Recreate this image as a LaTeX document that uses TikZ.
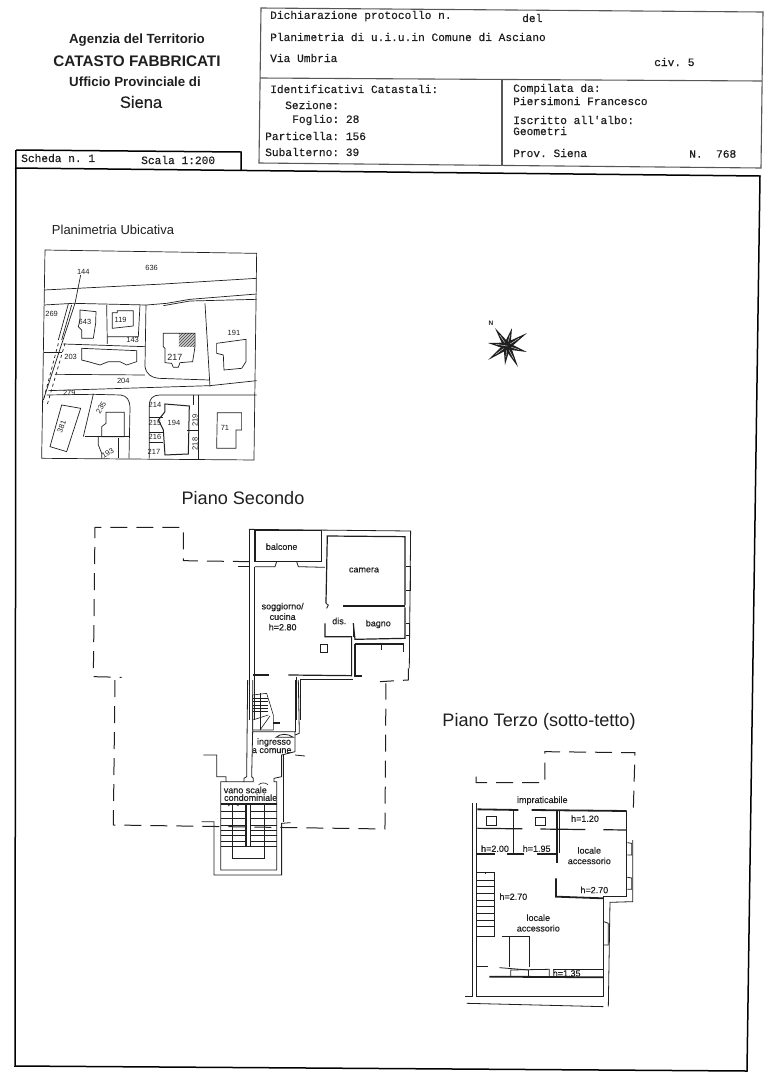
\documentclass[tikz,border=0pt]{standalone}
\usepackage{fontspec}
\setmainfont{Liberation Sans}
\setmonofont[FakeBold=0.5]{Liberation Mono}
\newfontfamily\labelfont[FakeBold=0.4]{Liberation Sans}
\usetikzlibrary{calc, patterns}
\definecolor{inkcolor}{gray}{0.12}

\begin{document}
\begin{tikzpicture}[
    x=1pt, y=-1pt,
    color=inkcolor,
    wall/.style={draw=inkcolor, line width=0.8pt},
    thickwall/.style={draw=inkcolor, line width=1.8pt},
    heavywall/.style={draw=inkcolor, line width=1.2pt},
    outline/.style={draw=inkcolor, line width=1pt, dash pattern=on 17pt off 9pt},
    frameline/.style={draw=inkcolor!75, line width=1.1pt},
    sheetline/.style={draw=black, line width=1.5pt},
    stamp/.style={font=\ttfamily\fontsize{11.2}{12}\selectfont, anchor=west, inner sep=0pt},
    office/.style={font=\bfseries\fontsize{13.3}{15}\selectfont, inner sep=0pt},
    title/.style={font=\fontsize{18.1}{20}\selectfont, inner sep=0pt},
    room/.style={font=\labelfont\fontsize{9}{10.5}\selectfont, align=center, inner sep=0pt},
    parcel/.style={font=\fontsize{7.5}{8}\selectfont, inner sep=0pt},
    map/.style={draw=inkcolor, line width=0.7pt},
    stairline/.style={draw=inkcolor, line width=0.6pt}
]
    \useasboundingbox (0,0) rectangle (767,1080);

    % Office heading
    \node[office] (agenzia) at (137,40) {Agenzia del Territorio};
    \node[office, font=\bfseries\fontsize{15.3}{17}\selectfont] (catasto) at (137,61) {CATASTO FABBRICATI};
    \node[office] (ufficio) at (135,82) {Ufficio Provinciale di};
    \node[office, font=\labelfont\fontsize{16.5}{18}\selectfont] (siena) at (141,102) {Siena};

    % Form boxes
    \draw[frameline] (261,8) -- (763,12) -- (761,168) -- (259,163) -- cycle;
    \draw[frameline] (260,78) -- (762,81);
    \draw[frameline] (502,80) -- (502,165);
    \draw[sheetline] (16,150) -- (241,152) -- (241,170);
    \draw[sheetline] (16,150) -- (15,1066) -- (747,1071) -- (760,176) -- (15,168);

    \node[stamp] (dich) at (270,16) {Dichiarazione protocollo n.};
    \node[stamp] (del) at (522,18) {del};
    \node[stamp] (plan) at (270,37) {Planimetria di u.i.u.in Comune di Asciano};
    \node[stamp] (via) at (270,58) {Via Umbria};
    \node[stamp] (civ) at (654,62) {civ. 5};
    \node[stamp] (ident) at (270,89) {Identificativi Catastali:};
    \node[stamp] (sez) at (285,105) {Sezione:};
    \node[stamp] (fog) at (292,120) {Foglio: 28};
    \node[stamp] (part) at (265,136) {Particella: 156};
    \node[stamp] (sub) at (265,152) {Subalterno: 39};
    \node[stamp] (comp) at (513,89) {Compilata da:};
    \node[stamp] (nome) at (513,101) {Piersimoni Francesco};
    \node[stamp] (iscr) at (513,120) {Iscritto all'albo:};
    \node[stamp] (geom) at (513,131) {Geometri};
    \node[stamp] (prov) at (513,153) {Prov. Siena};
    \node[stamp] (num) at (689,154) {N.~~768};
    \node[stamp] (scheda) at (21,158) {Scheda n. 1};
    \node[stamp] (scala) at (141,160) {Scala 1:200};

    % Titles
    \node[font=\fontsize{13}{15}\selectfont, inner sep=0pt] (ubic) at (113,230) {Planimetria Ubicativa};
    \node[title] (secondo) at (243,498) {Piano Secondo};
    \node[title] (terzo) at (539,722) {Piano Terzo (sotto-tetto)};

    % North star
    \coordinate (star) at (507,346);
    \node[font=\bfseries\fontsize{6.5}{7}\selectfont, inner sep=0pt] (north) at (491,323) {N};
    \foreach \tx/\ty in {495/328,512/328,527/333,527/352,518/367,505/365,488/360,488/343} {
        \fill[inkcolor] ($(star)!3.5pt!90:(\tx,\ty)$) -- (\tx,\ty) -- ($(star)!3.5pt!-90:(\tx,\ty)$) -- cycle;
        \draw[white, line width=0.35pt] (star) -- ($(star)!0.6!(\tx,\ty)$);
    }

    % Location map
    \begin{scope}[shift={(30,240)}, x=0.3333pt, y=-0.3333pt]
        \draw[map] (45,30) -- (680,40) -- (672,660) -- (35,655) -- cycle;
        \draw[map] (42,150) -- (400,132) -- (680,115);
        \draw[map] (42,195) -- (130,190) -- (350,195) -- (410,190) -- (480,178) -- (680,162);
        \draw[map] (400,197) -- (480,183) -- (680,178);
        \draw[map] (152,105) -- (135,190) -- (40,480);
        \draw[map] (115,192) -- (85,300);
        \draw[map] (125,195) -- (95,300);
        \draw[map, dashed] (85,310) -- (35,500);
        \draw[map, dashed] (105,310) -- (50,500);
        \draw[map] (230,195) -- (232,312);
        \draw[map] (330,195) -- (325,290) -- (232,290);
        \draw[map] (348,195) -- (345,380) .. controls (350,405) and (365,412) .. (385,415) -- (538,420);
        \draw[map] (525,190) -- (540,440);
        \draw[map] (100,312) -- (345,320);
        \draw[map] (42,338) -- (95,338);
        \draw[map] (75,403) -- (345,405);
        \draw[map] (55,452) -- (540,437) -- (680,422);
        \draw[map] (50,465) -- (190,463) -- (160,590);
        \draw[map] (190,463) -- (272,465) .. controls (290,467) and (300,480) .. (300,505) -- (297,655);
        \draw[map] (358,655) -- (358,495) .. controls (358,475) and (370,465) .. (390,465) -- (680,465);
        \draw[map] (505,465) -- (505,660);
        \draw[map] (490,465) -- (490,495);
        \draw[map] (165,590) -- (297,590);
        \draw[map] (358,532) -- (400,532);
        \draw[map] (358,578) -- (400,578);
        \draw[map] (358,608) -- (400,608);
        \draw[map] (470,570) -- (505,570);
        % Buildings
        \draw[map] (150,210) -- (198,215) -- (197,250) -- (190,295) -- (155,295) -- (155,270) -- (145,260) -- (150,240) -- cycle;
        \draw[map] (247,218) -- (262,218) -- (262,212) -- (310,212) -- (310,258) -- (247,265) -- cycle;
        \draw[map] (155,325) -- (320,332) -- (320,365) -- (290,375) -- (270,365) -- (235,365) -- (210,375) -- (175,365) -- (155,360) -- cycle;
        \draw[map] (400,280) -- (495,280) -- (495,320) -- (488,365) -- (450,368) -- (445,382) -- (430,382) -- (425,370) -- (405,368) -- (405,325) -- (400,320) -- cycle;
        \fill[pattern=north east lines, pattern color=inkcolor] (447,282) rectangle (495,320);
        \fill[gray, opacity=0.4] (447,282) rectangle (495,320);
        \draw[map] (560,310) -- (648,298) -- (648,365) -- (635,385) -- (582,390) -- (580,345) -- (560,340) -- cycle;
        \draw[map, line width=1pt] (405,492) -- (478,498) -- (475,642) -- (405,645) -- (400,570) -- (385,540) -- (405,515) -- cycle;
        \draw[map] (95,495) -- (152,505) -- (110,635) -- (60,620) -- cycle;
        \draw[map] (228,517) -- (283,517) -- (283,590) -- (215,590) -- (215,560) -- (228,550) -- cycle;
        \draw[map] (205,590) -- (205,615) -- (215,640) -- (215,655);
        \draw[map] (265,595) -- (265,655);
        \draw[map] (562,518) -- (635,518) -- (635,570) -- (618,570) -- (618,625) -- (560,625) -- cycle;
        % Parcel numbers
        \node[parcel] (p144) at (160,95) {144};
        \node[parcel] (p636) at (365,83) {636};
        \node[parcel] (p269) at (65,222) {269};
        \node[parcel] (p643) at (165,245) {643};
        \node[parcel] (p119) at (272,240) {119};
        \node[parcel] (p143) at (308,300) {143};
        \node[parcel, font=\fontsize{9}{10}\selectfont] (p217) at (435,352) {217};
        \node[parcel] (p191) at (612,280) {191};
        \node[parcel] (p203) at (122,352) {203};
        \node[parcel] (p204) at (280,423) {204};
        \node[parcel] (p279) at (118,460) {279};
        \node[parcel, rotate=60] (p235) at (213,503) {235};
        \node[parcel, rotate=70] (p381) at (95,560) {381};
        \node[parcel, rotate=30] (p193) at (233,640) {193};
        \node[parcel] (p214) at (375,495) {214};
        \node[parcel] (p215) at (375,548) {215};
        \node[parcel] (p216) at (375,590) {216};
        \node[parcel] (p217b) at (372,637) {217};
        \node[parcel] (p194) at (432,550) {194};
        \node[parcel, rotate=90] (p219) at (495,542) {219};
        \node[parcel, rotate=90] (p218) at (495,612) {218};
        \node[parcel] (p71) at (585,565) {71};
    \end{scope}

    % Second floor, upper part
    \begin{scope}[shift={(80,520)}, x=0.3333pt, y=-0.3333pt]
        \draw[outline] (510,125) -- (310,122) -- (310,22) -- (45,22) -- (40,470) -- (125,472);
        \draw[outline] (985,445) -- (985,480) -- (900,485);
        \draw[wall] (507,28) -- (992,33) -- (988,445);
        \draw[wall] (507,28) -- (507,600);
        \draw[wall] (522,140) -- (522,600);
        \draw[heavywall] (525,32) -- (725,32) -- (725,125) -- (525,125) -- cycle;
        \draw[heavywall] (738,250) -- (742,48) -- (975,50) -- (975,255);
        \draw[thickwall] (790,257) -- (975,257);
        \draw[heavywall] (975,262) -- (975,355) -- (825,358) -- (820,310);
        \draw[heavywall] (820,310) -- (820,350);
        \draw[heavywall] (735,310) -- (735,350) -- (815,350) -- (815,467) -- (625,465);
        \draw[heavywall] (825,372) -- (970,372) -- (970,395);
        \draw[heavywall] (825,372) -- (825,468) -- (845,468);
        \draw[wall] (650,125) -- (655,140) -- (735,142);
        \draw[wall] (525,140) -- (585,140) -- (590,125);
        \draw[wall] (475,140) -- (507,140);
        \draw[thickwall] (520,465) -- (567,465);
        \draw[wall] (650,470) -- (650,600);
        \draw[wall] (660,600) -- (660,478) -- (820,478);
        \draw[wall] (720,372) -- (742,372) -- (742,398) -- (720,398) -- cycle;
        \draw[wall] (978,140) -- (990,140) -- (990,210) -- (978,210);
        \draw[wall] (978,310) -- (988,310) -- (988,345) -- (978,345);
        \draw[wall] (905,375) -- (905,390);
        \draw[wall] (738,250) -- (745,255) -- (740,265);
        \node[room] (balcone) at (605,80) {balcone};
        \node[room] (camera) at (852,150) {camera};
        \node[room] (soggiorno) at (608,290) {soggiorno/\\cucina\\h=2.80};
        \node[room] (dis) at (778,303) {dis.};
        \node[room] (bagno) at (895,312) {bagno};
    \end{scope}

    % Second floor, lower part and common stairs
    \begin{scope}[shift={(100,680)}, x=0.3333pt, y=-0.3333pt]
        \draw[outline] (45,0) -- (40,435) -- (855,447) -- (858,10);
        \draw[wall] (443,0) -- (440,290) -- (432,295) -- (432,305) -- (362,305) -- (378,305) -- (378,290) -- (350,290) -- (350,225) -- (310,225);
        \draw[wall] (458,0) -- (458,155) -- (585,155) -- (585,215) -- (545,225) -- (545,290) -- (522,295) -- (522,305) -- (530,305) -- (530,570) -- (362,570) -- (362,305);
        \draw[wall] (458,155) -- (455,290) -- (460,295) -- (460,305) -- (432,305);
        \draw[wall] (585,0) -- (585,155);
        \draw[wall] (595,0) -- (598,160) -- (585,165);
        \draw[wall] (585,225) -- (615,228);
        \draw[wall] (305,425) -- (342,425) -- (342,585) -- (545,585) -- (545,430) -- (572,428);
        \draw[wall] (550,225) -- (550,425);
        % Private stairs
        \draw[stairline] (458,45) -- (500,40) -- (520,105) -- (520,150) -- (458,150) -- cycle;
        \foreach \sy in {55,65,75,85,95} {
            \draw[stairline] (458,\sy) -- (505,\sy);
        }
        \draw[stairline] (480,40) -- (480,150);
        \draw[stairline] (458,120) -- (505,105);
        \draw[stairline] (480,150) -- (510,108);
        \draw[thickwall] (520,128) -- (540,128);
        \draw[wall] (528,172) .. controls (540,160) and (565,160) .. (580,172) -- cycle;
        % Common stairs
        \foreach \sy in {395,415,435,450,465,485,500} {
            \draw[stairline] (362,\sy) -- (436,\sy);
            \draw[stairline] (454,\sy) -- (530,\sy);
        }
        \draw[thickwall] (362,372) -- (530,372);
        \draw[wall, line width=1.5pt] (438,372) rectangle (452,500);
        \draw[stairline] (398,372) -- (398,535) -- (492,535) -- (492,372);
        \draw[stairline] (384,378) .. controls (392,370) and (408,370) .. (416,378);
        \draw[stairline] (476,314) .. controls (484,307) and (496,307) .. (504,314);
        \node[room] (ingresso) at (522,187) {ingresso};
        \node[room] (comune) at (515,212) {a comune};
        \node[room] (vano) at (436,330) {vano scale};
        \node[room] (condo) at (452,353) {condominiale};
    \end{scope}

    % Third floor
    \begin{scope}[shift={(460,740)}, x=0.3333pt, y=-0.3333pt]
        \draw[outline] (48,110) -- (48,128) -- (255,128) -- (255,35) -- (525,38) -- (520,210);
        \draw[wall] (38,190) -- (38,770) -- (15,770);
        \draw[wall] (48,190) -- (48,770) -- (430,770);
        \draw[wall] (518,300) -- (518,485) -- (450,487) -- (445,800);
        \draw[wall] (430,470) -- (430,770);
        \draw[wall] (20,790) -- (430,800);
        \draw[thickwall] (52,208) -- (175,210);
        \draw[thickwall] (215,210) -- (500,213);
        \draw[heavywall] (160,210) -- (160,345);
        \draw[thickwall] (290,213) -- (290,370);
        \draw[wall] (298,213) -- (298,340);
        \draw[thickwall] (288,415) -- (288,470) -- (430,475);
        \draw[wall] (500,213) -- (500,470) -- (430,470);
        \draw[heavywall] (52,342) -- (105,342);
        \draw[heavywall] (142,342) -- (192,342);
        \draw[heavywall] (232,342) -- (290,342);
        \draw[heavywall, dash pattern=on 45pt off 18pt] (52,265) -- (500,270);
        \draw[wall] (80,230) rectangle (108,255);
        \draw[wall] (226,232) rectangle (256,256);
        \draw[wall] (502,308) -- (515,310) -- (515,345) -- (502,345);
        \draw[wall] (502,412) -- (515,414) -- (515,448) -- (502,448);
        \draw[wall] (432,545) -- (445,550) -- (445,615) -- (432,615);
        \draw[wall] (50,397) rectangle (103,590);
        \foreach \sy in {420,440,460,480,500,520,540,560} {
            \draw[stairline] (50,\sy) -- (103,\sy);
        }
        \draw[stairline] (76,397) -- (76,403);
        \draw[wall] (125,590) -- (210,590);
        \draw[wall] (148,590) -- (148,680);
        \draw[wall] (208,590) -- (208,680);
        \draw[wall] (118,683) -- (205,690);
        \draw[wall] (50,680) -- (85,680);
        \draw[thickwall] (88,710) -- (430,712);
        \draw[wall] (280,688) -- (430,688) -- (430,712);
        \draw[wall] (152,708) -- (152,690) -- (268,688) -- (268,708);
        \draw[wall] (205,690) -- (205,708);
        \node[room] (impr) at (247,182) {impraticabile};
        \node[room] (h120) at (375,236) {h=1.20};
        \node[room] (h200) at (105,326) {h=2.00};
        \node[room] (h195) at (230,326) {h=1.95};
        \node[room] (localea) at (388,347) {locale\\accessorio};
        \node[room] (h270a) at (403,450) {h=2.70};
        \node[room] (h270b) at (160,470) {h=2.70};
        \node[room] (localeb) at (235,549) {locale\\accessorio};
        \node[room] (h135) at (320,700) {h=1.35};
    \end{scope}
\end{tikzpicture}
\end{document}
